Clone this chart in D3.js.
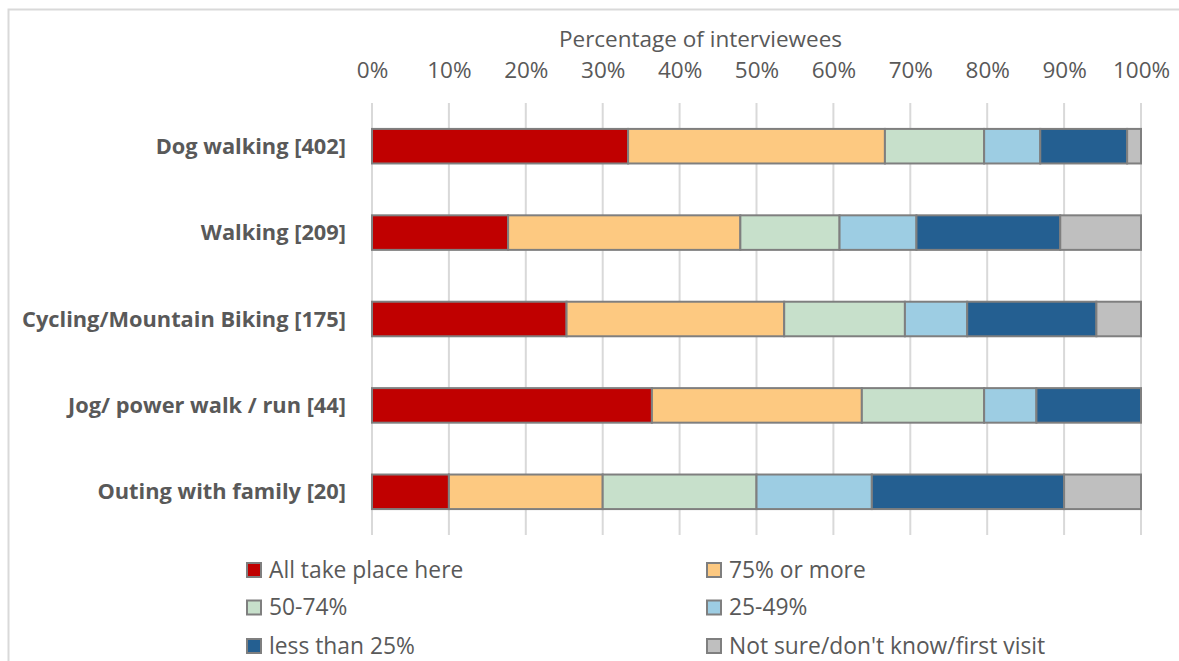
<!DOCTYPE html>
<html>
<head>
<meta charset="utf-8">
<script src="https://cdn.jsdelivr.net/npm/d3@7"></script>
<style>
  html, body { margin: 0; padding: 0; background: #fff; }
  svg { display: block; }
  text { font-family: "Open Sans", "Noto Sans", sans-serif; fill: #595959; }
</style>
</head>
<body>
<svg id="chart" width="1179" height="661"></svg>
<script>
// Activities (with number of interviewees)
const categories = [
  "Dog walking [402]",
  "Walking [209]",
  "Cycling/Mountain Biking [175]",
  "Jog/ power walk / run [44]",
  "Outing with family [20]"
];

// Share of each activity that takes place at this site (% of interviewees)
const seriesNames = [
  "All take place here",
  "75% or more",
  "50-74%",
  "25-49%",
  "less than 25%",
  "Not sure/don't know/first visit"
];
const allHere  = [33.3, 17.7, 25.3, 36.4, 10];
const over75   = [33.4, 30.2, 28.3, 27.3, 20];
const p50to74  = [12.9, 12.9, 15.7, 15.9, 20];
const p25to49  = [7.3, 10.0, 8.1, 6.8, 15];
const under25  = [11.3, 18.7, 16.8, 13.6, 25];
const notSure  = [1.8, 10.5, 5.8, 0, 10];

const seriesColors = ["#C00000", "#FDC981", "#C7E0CB", "#9DCDE3", "#245F91", "#BFBFBF"];

const xTicks = [0, 10, 20, 30, 40, 50, 60, 70, 80, 90, 100];
const axisTitle = "Percentage of interviewees";

const seriesValues = [allHere, over75, p50to74, p25to49, under25, notSure];
const rows = categories.map((c, i) => {
  const row = { category: c };
  seriesNames.forEach((s, j) => { row[s] = seriesValues[j][i]; });
  return row;
});

const svg = d3.select("#chart");

// Outer chart frame
svg.append("rect")
  .attr("x", 8.5).attr("y", 9.5)
  .attr("width", 1200).attr("height", 700)
  .attr("fill", "none")
  .attr("stroke", "#D9D9D9")
  .attr("stroke-width", 2);

const x = d3.scaleLinear().domain([0, 100]).range([372, 1141]);
const y = d3.scaleBand().domain(categories).range([103, 535])
  .paddingInner(0.6).paddingOuter(0.3);

// Vertical gridlines
svg.append("g").selectAll("line")
  .data(xTicks)
  .join("line")
  .attr("x1", d => x(d)).attr("x2", d => x(d))
  .attr("y1", 103).attr("y2", 535)
  .attr("stroke", "#D9D9D9")
  .attr("stroke-width", 2);

// Top axis with percentage labels
const xAxis = d3.axisTop(x).tickValues(xTicks).tickFormat(d => d + "%").tickSize(0).tickPadding(0);
const ax = svg.append("g").attr("transform", "translate(0,78)").call(xAxis);
ax.select(".domain").remove();
ax.selectAll("text")
  .attr("font-size", 22.5)
  .attr("dy", 0)
  .attr("fill", "#595959")
  .style("font-family", "'Open Sans', sans-serif");

svg.append("text")
  .attr("x", (x(0) + x(100)) / 2 - 56)
  .attr("y", 47)
  .attr("text-anchor", "middle")
  .attr("font-size", 22.5)
  .text(axisTitle);

// Stacked bars
const stack = d3.stack().keys(seriesNames);
const layers = stack(rows);

svg.append("g").selectAll("g")
  .data(layers)
  .join("g")
  .attr("fill", (d, i) => seriesColors[i])
  .selectAll("rect")
  .data(d => d.filter(p => p[1] - p[0] > 0))
  .join("rect")
  .attr("x", d => x(d[0]))
  .attr("width", d => x(d[1]) - x(d[0]))
  .attr("y", d => y(d.data.category))
  .attr("height", y.bandwidth())
  .attr("stroke", "#7F7F7F")
  .attr("stroke-width", 2);

// Category labels
svg.append("g").selectAll("text")
  .data(categories)
  .join("text")
  .attr("x", 346)
  .attr("y", d => y(d) + y.bandwidth() / 2)
  .attr("dy", "0.35em")
  .attr("text-anchor", "end")
  .attr("font-size", 21.8)
  .attr("font-weight", "bold")
  .text(d => d);

// Legend (two columns, three rows)
const legendCols = [246, 706];
const legendRows = [570, 607.5, 646];
const legend = svg.append("g").selectAll("g")
  .data(seriesNames)
  .join("g")
  .attr("transform", (d, i) => `translate(${legendCols[i % 2]},${legendRows[Math.floor(i / 2)]})`);

legend.append("rect")
  .attr("x", 1).attr("y", -7)
  .attr("width", 14).attr("height", 14)
  .attr("fill", (d, i) => seriesColors[i])
  .attr("stroke", "#7F7F7F")
  .attr("stroke-width", 2);

legend.append("text")
  .attr("x", 23)
  .attr("dy", "0.35em")
  .attr("font-size", 22.8)
  .text(d => d);
</script>
</body>
</html>
